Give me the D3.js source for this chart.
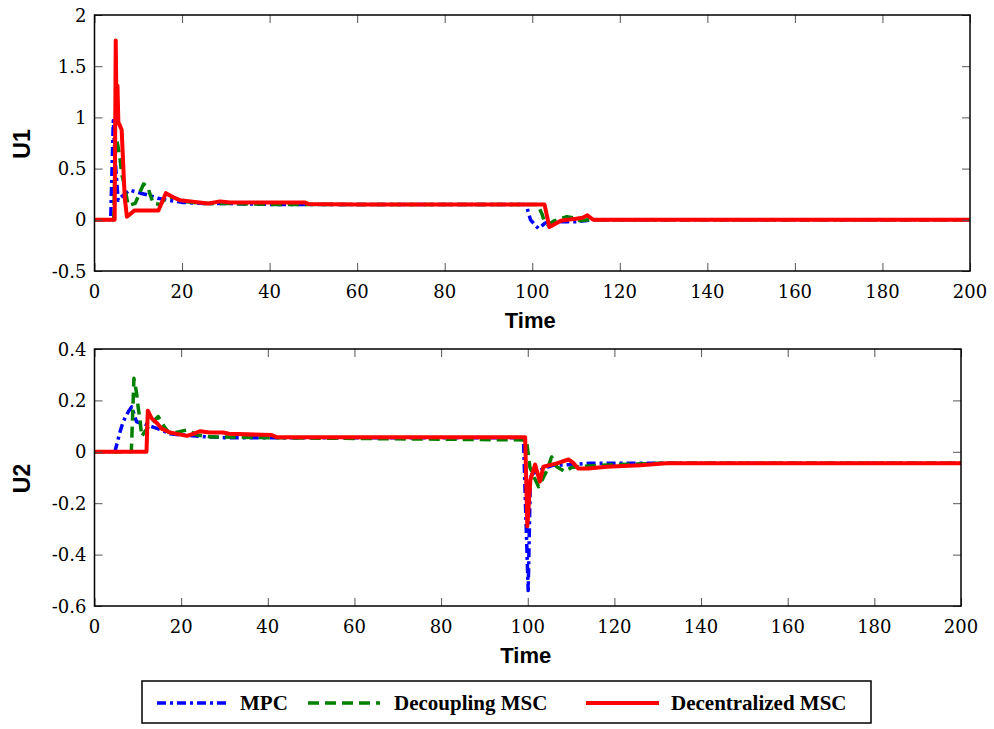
<!DOCTYPE html>
<html>
<head>
<meta charset="utf-8">
<script src="https://cdn.jsdelivr.net/npm/d3@7/dist/d3.min.js"></script>
<style>
  html, body { margin: 0; padding: 0; background: #fff; }
  svg { display: block; }
</style>
</head>
<body>
<svg id="chart" width="994" height="729"></svg>
<script>
// ---- Control effort U1 ----
const mpcU1T = [0, 3.7, 4.3, 4.7, 5.4, 6, 8, 10.5, 12.5, 14.5, 17, 20, 25, 30, 40, 98.3, 98.8, 99.6, 101.4, 101.9, 103, 105.2, 110, 114, 200];
const mpcU1  = [0, 0, 0.97, 0.6, 0.19, 0.22, 0.29, 0.26, 0.24, 0.21, 0.19, 0.17, 0.16, 0.16, 0.15, 0.15, 0.12, 0.0, -0.085, -0.07, -0.03, -0.02, -0.02, 0.0, 0];

const decU1T = [0, 4.4, 4.8, 5.1, 5.8, 6.2, 6.6, 7.7, 9.3, 11.2, 12.2, 12.6, 13.4, 15, 16.5, 18, 20, 25, 30, 40, 101.2, 102.2, 102.8, 103.6, 105, 107.9, 109.5, 110.9, 113, 200];
const decU1  = [0, 0, 0.78, 0.78, 0.61, 0.45, 0.38, 0.14, 0.16, 0.35, 0.32, 0.26, 0.16, 0.15, 0.22, 0.22, 0.18, 0.16, 0.16, 0.15, 0.15, 0.06, -0.02, -0.05, -0.01, 0.03, 0.02, -0.01, 0.0, 0];

const dcnU1T = [0, 4.6, 4.85, 5.05, 5.25, 5.45, 5.7, 6.2, 6.9, 7.4, 9.1, 14.6, 16.3, 18, 19.6, 21.9, 24, 26, 28.7, 31, 35, 48, 48.8, 60, 102.8, 103.9, 105.2, 106.5, 108, 110, 111.5, 112.6, 113.9, 200];
const dcnU1  = [0, 0, 1.75, 1.0, 1.31, 0.95, 0.93, 0.88, 0.22, 0.03, 0.09, 0.09, 0.26, 0.22, 0.19, 0.18, 0.17, 0.16, 0.18, 0.17, 0.17, 0.17, 0.155, 0.15, 0.15, -0.07, -0.04, -0.01, 0.0, 0.01, 0.02, 0.045, 0.0, 0];

// ---- Control effort U2 ----
const mpcU2T = [0, 4.7, 5.9, 6.6, 7.8, 8.6, 9.7, 11.2, 13.2, 15.5, 17.4, 20.5, 24.3, 30, 40, 99, 100.1, 100.6, 101.1, 103, 105.9, 110, 114.3, 120, 200];
const mpcU2  = [0, 0, 0.078, 0.117, 0.156, 0.175, 0.117, 0.11, 0.098, 0.085, 0.07, 0.065, 0.06, 0.055, 0.055, 0.055, -0.54, -0.1, -0.085, -0.07, -0.052, -0.05, -0.045, -0.045, -0.045];

const decU2T = [0, 8.5, 9.1, 9.7, 10.1, 10.5, 10.9, 12.5, 14.7, 16.1, 17.3, 18.8, 21.3, 23.7, 27, 40, 99.7, 100.5, 101.5, 102.5, 103.3, 104.5, 105.5, 106.7, 108.6, 110.2, 114, 120, 130, 200];
const decU2  = [0, 0, 0.286, 0.23, 0.17, 0.124, 0.06, 0.1, 0.137, 0.098, 0.072, 0.075, 0.085, 0.065, 0.058, 0.055, 0.046, -0.06, -0.1, -0.136, -0.11, -0.07, -0.02, -0.058, -0.077, -0.06, -0.055, -0.05, -0.045, -0.045];

const dcnU2T = [0, 12, 12.3, 13.2, 14.5, 15.5, 17.4, 21.3, 22.8, 24.3, 26.6, 29.7, 31, 40.9, 42, 99.4, 99.9, 100.6, 101.7, 102.8, 103.6, 106.7, 109.4, 110.3, 111.7, 114, 118.2, 126, 132, 200];
const dcnU2  = [0, 0, 0.16, 0.13, 0.11, 0.09, 0.075, 0.062, 0.07, 0.08, 0.075, 0.075, 0.07, 0.065, 0.057, 0.057, -0.29, -0.11, -0.05, -0.116, -0.058, -0.045, -0.03, -0.04, -0.065, -0.065, -0.058, -0.052, -0.045, -0.045];

// ---- Axis settings ----
const timeTicks = [0, 20, 40, 60, 80, 100, 120, 140, 160, 180, 200];
const u1Ticks = [-0.5, 0, 0.5, 1, 1.5, 2];
const u2Ticks = [-0.6, -0.4, -0.2, 0, 0.2, 0.4];

const seriesNames = ["MPC", "Decoupling MSC", "Decentralized MSC"];
const seriesColors = ["#0000ff", "#008000", "#ff0000"];
const seriesDash = ["9,4,3,4", "11,6", null];
const seriesWidth = [3.5, 3.5, 4];

const svg = d3.select("#chart");
const tickFont = "DejaVu Serif";
const legendFont = "Liberation Serif";
const sans = "Liberation Sans";

function zip(t, v) { return t.map((d, i) => [d, v[i]]); }

function drawPanel(cfg) {
  const x = d3.scaleLinear().domain([0, 200]).range([cfg.left, cfg.right]);
  const y = d3.scaleLinear().domain(cfg.yDomain).range([cfg.bottom, cfg.top]);
  const g = svg.append("g");

  // clipped plotting area
  const clipId = "clip-" + cfg.id;
  svg.append("clipPath").attr("id", clipId)
    .append("rect")
    .attr("x", cfg.left).attr("y", cfg.top)
    .attr("width", cfg.right - cfg.left).attr("height", cfg.bottom - cfg.top);

  const line = d3.line().x(d => x(d[0])).y(d => y(d[1]));
  const plot = g.append("g").attr("clip-path", `url(#${clipId})`);
  cfg.series.forEach((s, i) => {
    plot.append("path")
      .datum(s)
      .attr("d", line)
      .attr("fill", "none")
      .attr("stroke", seriesColors[i])
      .attr("stroke-width", seriesWidth[i])
      .attr("stroke-linejoin", "round")
      .attr("stroke-dasharray", seriesDash[i]);
  });

  // tick marks pointing inward on all four sides (labels are set separately)
  const tickLen = 8;
  const noLabel = () => "";
  const axes = [
    [d3.axisBottom(x).tickValues(timeTicks), `translate(0,${cfg.bottom})`],
    [d3.axisTop(x).tickValues(timeTicks), `translate(0,${cfg.top})`],
    [d3.axisLeft(y).tickValues(cfg.yTicks), `translate(${cfg.left},0)`],
    [d3.axisRight(y).tickValues(cfg.yTicks), `translate(${cfg.right},0)`]
  ];
  axes.forEach(([ax, tr]) => {
    const a = g.append("g").attr("transform", tr)
      .call(ax.tickSizeInner(-tickLen).tickSizeOuter(0).tickFormat(noLabel));
    a.select(".domain").remove();
    a.selectAll(".tick line").attr("stroke", "#555");
    a.selectAll(".tick text").remove();
  });

  // tick labels
  g.append("g").selectAll("text").data(timeTicks).join("text")
    .attr("x", d => x(d)).attr("y", cfg.bottom + 27)
    .attr("text-anchor", "middle")
    .attr("font-family", tickFont).attr("font-size", 18).attr("fill", "#000")
    .text(d => String(d));
  g.append("g").selectAll("text").data(cfg.yTicks).join("text")
    .attr("x", cfg.left - 8).attr("y", d => y(d) + 6.5)
    .attr("text-anchor", "end")
    .attr("font-family", tickFont).attr("font-size", 18).attr("fill", "#000")
    .text(d => String(d));

  // frame
  g.append("rect")
    .attr("x", cfg.left).attr("y", cfg.top)
    .attr("width", cfg.right - cfg.left).attr("height", cfg.bottom - cfg.top)
    .attr("fill", "none").attr("stroke", "#000").attr("stroke-width", 1.5);

  // titles
  g.append("text")
    .attr("x", (cfg.left + cfg.right) / 2 - 2).attr("y", cfg.bottom + 57)
    .attr("text-anchor", "middle")
    .attr("font-family", sans).attr("font-weight", "bold").attr("font-size", 22)
    .text("Time");
  g.append("text")
    .attr("transform", `translate(30,${(cfg.top + cfg.bottom) / 2 + 1}) rotate(-90)`)
    .attr("text-anchor", "middle")
    .attr("font-family", sans).attr("font-weight", "bold").attr("font-size", 23)
    .text(cfg.yLabel);
}

drawPanel({
  id: "u1", left: 94.5, right: 970, top: 15, bottom: 271,
  yDomain: [-0.5, 2], yTicks: u1Ticks, yLabel: "U1",
  series: [zip(mpcU1T, mpcU1), zip(decU1T, decU1), zip(dcnU1T, dcnU1)]
});

drawPanel({
  id: "u2", left: 94.5, right: 961, top: 349, bottom: 606,
  yDomain: [-0.6, 0.4], yTicks: u2Ticks, yLabel: "U2",
  series: [zip(mpcU2T, mpcU2), zip(decU2T, decU2), zip(dcnU2T, dcnU2)]
});

// ---- Legend ----
const legend = svg.append("g");
legend.append("rect")
  .attr("x", 142).attr("y", 681).attr("width", 729).attr("height", 42)
  .attr("fill", "#fff").attr("stroke", "#000").attr("stroke-width", 1.5);
const legendItems = [
  { x0: 157, x1: 230, tx: 240 },
  { x0: 308, x1: 380, tx: 394 },
  { x0: 586, x1: 659, tx: 671 }
];
legendItems.forEach((it, i) => {
  legend.append("line")
    .attr("x1", it.x0).attr("x2", it.x1).attr("y1", 703).attr("y2", 703)
    .attr("stroke", seriesColors[i]).attr("stroke-width", seriesWidth[i])
    .attr("stroke-dasharray", seriesDash[i]);
  legend.append("text")
    .attr("x", it.tx).attr("y", 710)
    .attr("font-family", legendFont).attr("font-weight", "bold").attr("font-size", 21)
    .text(seriesNames[i]);
});
</script>
</body>
</html>
